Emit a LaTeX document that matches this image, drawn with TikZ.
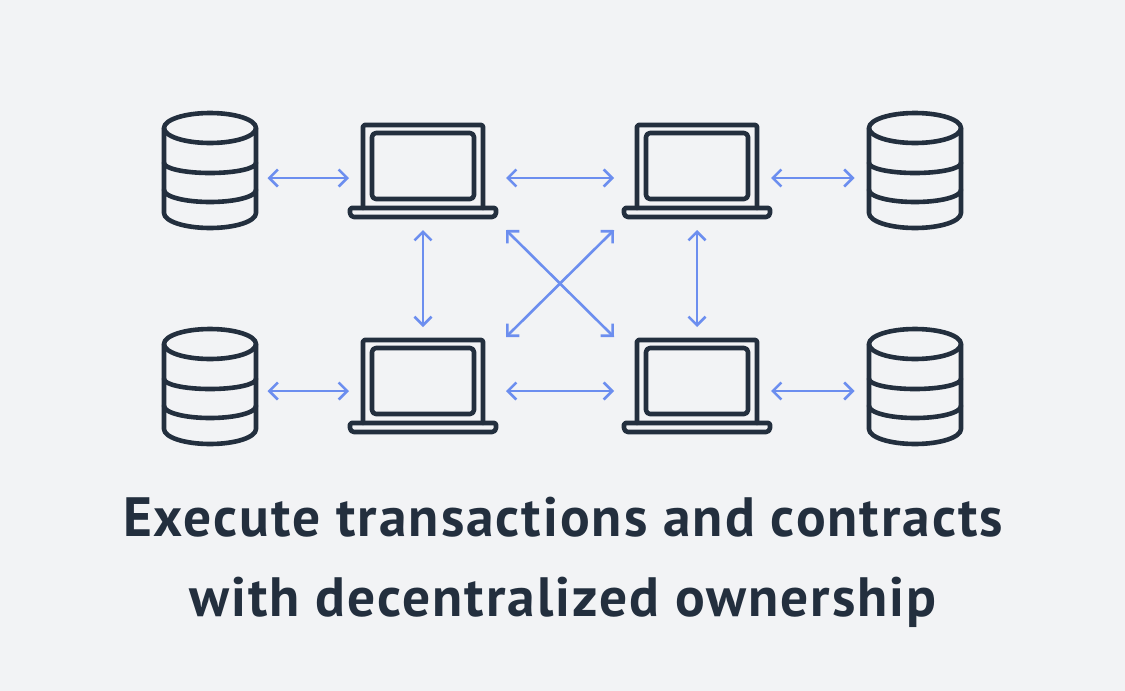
\documentclass[tikz,border=0pt]{standalone}
\usepackage{fontspec}
\setmainfont{PT Sans}[LetterSpace=3.6]
\usetikzlibrary{arrows.meta}
\definecolor{bgc}{HTML}{F2F3F5}
\definecolor{ink}{HTML}{232F3E}
\definecolor{arrowc}{HTML}{6C8EEF}
\tikzset{
  x=1pt,y=-1pt,
  icon/.style={draw=ink,line width=4.6pt,line join=round,line cap=round},
  dbbox/.style={inner sep=0,outer sep=0,minimum width=95pt,minimum height=118pt},
  lapbox/.style={inner sep=0,outer sep=0,minimum width=150pt,minimum height=96pt},
  link/.style={draw=arrowc,line width=2.6pt,{Straight Barb[length=8.5pt,width=17pt,line width=2.6pt]}-{Straight Barb[length=8.5pt,width=17pt,line width=2.6pt]}},
  titletext/.style={anchor=base,text=ink,font=\fontsize{55.4}{55.4}\selectfont\bfseries,inner sep=0},
  dbicon/.pic={
    \draw[icon] (0,-42) ellipse [x radius=46,y radius=15];
    \draw[icon] (-46,-42) -- (-46,43) arc [start angle=180,end angle=0,x radius=46,y radius=15] -- (46,-42);
    \draw[icon] (-46,-7) arc [start angle=180,end angle=0,x radius=46,y radius=10];
    \draw[icon] (-46,20) arc [start angle=180,end angle=0,x radius=46,y radius=12];
  },
  lapicon/.pic={
    \draw[icon,rounded corners=1.5pt] (-60,37) -- (-60,-46) -- (60,-46) -- (60,37);
    \draw[icon,rounded corners=4pt] (-51,-38) rectangle (51,28);
    \draw[icon,rounded corners=1.5pt] (-64,37) -- (-73,37) [rounded corners=4pt] -- (-73,46) -- (73,46) [rounded corners=1.5pt] -- (73,37) -- cycle;
  }
}
\begin{document}
\begin{tikzpicture}
\fill[bgc] (0,0) rectangle (1125,691);
\useasboundingbox (0,0) rectangle (1125,691);

\node[dbbox] (d1) at (210,170) {};
\node[dbbox] (d2) at (915,170) {};
\node[dbbox] (d3) at (210,386) {};
\node[dbbox] (d4) at (915,386) {};
\node[lapbox] (l1) at (423,171) {};
\node[lapbox] (l2) at (697,171) {};
\node[lapbox] (l3) at (423,386) {};
\node[lapbox] (l4) at (697,386) {};
\pic at (d1) {dbicon};
\pic at (d2) {dbicon};
\pic at (d3) {dbicon};
\pic at (d4) {dbicon};
\pic at (l1) {lapicon};
\pic at (l2) {lapicon};
\pic at (l3) {lapicon};
\pic at (l4) {lapicon};

\draw[link] ([shift={(10,8)}]d1.east) -- ([shift={(1,7)}]l1.west);
\draw[link] ([shift={(8,7)}]l1.east) -- ([shift={(-8,7)}]l2.west);
\draw[link] ([shift={(-1,7)}]l2.east) -- ([shift={(-13,8)}]d2.west);
\draw[link] ([shift={(10,5)}]d3.east) -- ([shift={(1,5)}]l3.west);
\draw[link] ([shift={(8,5)}]l3.east) -- ([shift={(-8,5)}]l4.west);
\draw[link] ([shift={(-1,5)}]l4.east) -- ([shift={(-13,5)}]d4.west);
\draw[link] ([shift={(0,11)}]l1.south) -- ([shift={(0,-11)}]l3.north);
\draw[link] ([shift={(0,11)}]l2.south) -- ([shift={(0,-11)}]l4.north);
\draw[link] ([shift={(8,11)}]l1.south east) -- ([shift={(-8,-1)}]l4.north west);
\draw[link] ([shift={(-8,11)}]l2.south west) -- ([shift={(8,-1)}]l3.north east);

\node[titletext] (t1) at (563,536) {Execute transactions and contracts};
\node[titletext] (t2) at (563,616.5) {with decentralized ownership};
\end{tikzpicture}
\end{document}
